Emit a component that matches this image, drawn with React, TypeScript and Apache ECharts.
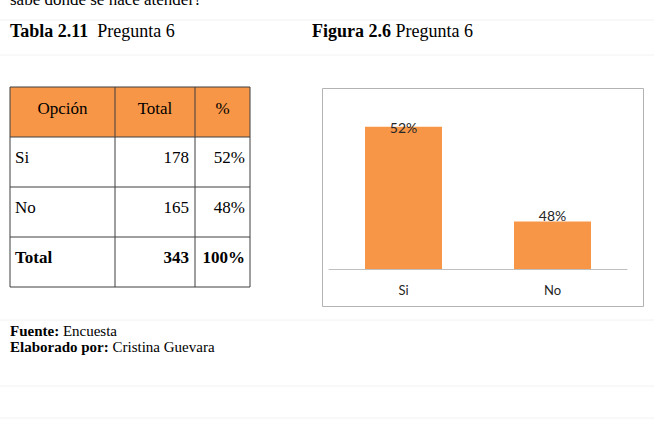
import React, { useEffect, useRef } from "react";
import * as echarts from "echarts";

// ---- Data ----
const categories = ["Si", "No"];
const percentValues = [52, 48];
const percentLabels = ["52%", "48%"];
const tableHeader = ["Opción", "Total", "%"];
const tableOptions = ["Si", "No", "Total"];
const tableTotals = ["178", "165", "343"];
const tablePercents = ["52%", "48%", "100%"];

const SERIF = "'Liberation Serif', 'Times New Roman', serif";
const SANS = "Lato, 'Open Sans', sans-serif";

function richText(text: string, x: number, y: number, size: number) {
  return {
    type: "text",
    style: {
      text,
      x,
      y,
      verticalAlign: "middle",
      fontFamily: SERIF,
      fontSize: size,
      fill: "#000",
      rich: {
        b: { fontWeight: "bold", fontFamily: SERIF, fontSize: size, fill: "#000" },
        n: { fontFamily: SERIF, fontSize: size, fill: "#000" },
      },
    },
  };
}

export default function App() {
  const ref = useRef<HTMLDivElement>(null);

  useEffect(() => {
    if (!ref.current) return;
    const chart = echarts.init(ref.current, undefined, { renderer: "svg" });

    const colX = [10, 115, 195, 250];
    const rowY = [87, 137, 187, 237, 287];
    const graphics: any[] = [];

    // faint page lines
    [20, 55, 320, 386, 418].forEach((y) =>
      graphics.push({
        type: "line",
        shape: { x1: 0, y1: y, x2: 654, y2: y },
        style: { stroke: "#f2f2f2", lineWidth: 1 },
        silent: true,
      })
    );

    // cut-off top text (partially above the page edge, as in the source)
    graphics.push({
      type: "text",
      style: { text: "sabe dónde se hace atender?", x: 10, y: -0.6, verticalAlign: "middle", fontFamily: SERIF, fontSize: 17, fill: "#000" },
    });

    // titles
    graphics.push(richText("{b|Tabla 2.11}{n|  Pregunta 6}", 10, 30.5, 18));
    graphics.push(richText("{b|Figura 2.6}{n| Pregunta 6}", 312, 30.5, 18));

    // table header fill
    graphics.push({
      type: "rect",
      shape: { x: colX[0], y: rowY[0], width: colX[3] - colX[0], height: rowY[1] - rowY[0] },
      style: { fill: "#F79646" },
    });
    // table lines
    rowY.forEach((y) =>
      graphics.push({ type: "line", shape: { x1: colX[0], y1: y, x2: colX[3], y2: y }, style: { stroke: "#3f3f3f", lineWidth: 1 } })
    );
    colX.forEach((x) =>
      graphics.push({ type: "line", shape: { x1: x, y1: rowY[0], x2: x, y2: rowY[4] }, style: { stroke: "#3f3f3f", lineWidth: 1 } })
    );
    // header texts
    tableHeader.forEach((h, i) =>
      graphics.push({
        type: "text",
        style: { text: h, x: (colX[i] + colX[i + 1]) / 2, y: rowY[0] + 21, align: "center", verticalAlign: "middle", fontFamily: SERIF, fontSize: 17, fill: "#000" },
      })
    );
    // body rows
    tableOptions.forEach((o, r) => {
      const weight = r === tableOptions.length - 1 ? "bold" : "normal";
      const cy = rowY[r + 1] + 20.5;
      const base = { y: cy, verticalAlign: "middle", fontFamily: SERIF, fontSize: 17, fontWeight: weight, fill: "#000" };
      graphics.push({ type: "text", style: { ...base, text: o, x: colX[0] + 5 } });
      graphics.push({ type: "text", style: { ...base, text: tableTotals[r], x: colX[2] - 6, align: "right" } });
      graphics.push({ type: "text", style: { ...base, text: tablePercents[r], x: colX[3] - 5, align: "right" } });
    });

    // footer
    graphics.push(richText("{b|Fuente:}{n| Encuesta}", 10, 330.5, 15));
    graphics.push(richText("{b|Elaborado por:}{n| Cristina Guevara}", 10, 347, 15));

    // chart frame
    graphics.push({
      type: "rect",
      shape: { x: 322.5, y: 88.5, width: 321, height: 218 },
      style: { fill: "none", stroke: "#b3b3b3", lineWidth: 1 },
      z: -1,
    });

    const labelDistances = [-8, -1];

    chart.setOption({
      animation: false,
      backgroundColor: "#ffffff",
      graphic: graphics,
      grid: { left: 329, right: 27, top: 103, bottom: 152 },
      xAxis: {
        type: "category",
        data: categories,
        axisLine: { lineStyle: { color: "#bfbfbf", width: 1 } },
        axisTick: { show: false },
        axisLabel: { color: "#262626", fontSize: 13, fontFamily: SANS, margin: 14 },
      },
      yAxis: {
        type: "value",
        min: 46,
        max: 53,
        show: false,
        splitLine: { show: false },
      },
      series: [
        {
          type: "bar",
          barWidth: 77,
          itemStyle: { color: "#F79646" },
          data: percentValues.map((v, i) => ({
            value: v,
            label: {
              show: true,
              position: "top",
              distance: labelDistances[i],
              formatter: percentLabels[i],
              color: "#262626",
              fontSize: 14,
              fontFamily: SANS,
            },
          })),
        },
      ],
    });

    return () => chart.dispose();
  }, []);

  return (
    <div style={{ position: "absolute", left: 0, top: 0, width: 654, height: 421, background: "#fff" }}>
      <div ref={ref} style={{ width: 654, height: 421 }} />
    </div>
  );
}
